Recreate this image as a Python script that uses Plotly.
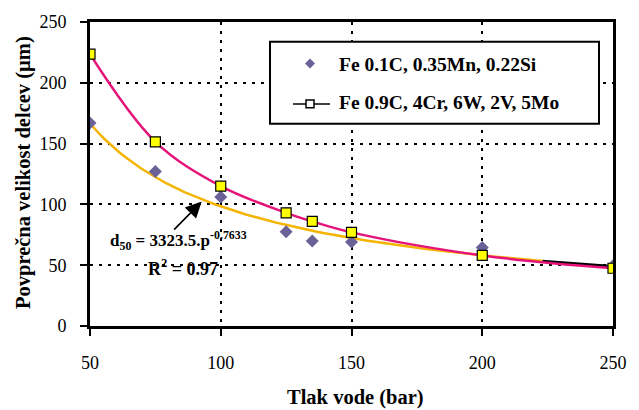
import numpy as np
import plotly.graph_objects as go

# ---- data ----
pressure = [50, 75, 100, 125, 135, 150, 200, 250]
fe01c = [167, 127, 106, 77.5, 70, 69, 64.5, 49.5]        # diamonds
fe09c = [223.5, 151.5, 115, 93, 86, 77, 58, 47.5]         # yellow squares
series_names = ["Fe 0.1C, 0.35Mn, 0.22Si", "Fe 0.9C, 4Cr, 6W, 2V, 5Mo"]
x_ticks = [50, 100, 150, 200, 250]
y_ticks = [0, 50, 100, 150, 200, 250]
eq_text = "d<sub>50</sub> = 3323.5.p<sup>-0.7633</sup>"
r2_text = "R<sup>2</sup> = 0.97"
x_title = "Tlak vode (bar)"
y_title = "Povprečna velikost delcev (µm)"

# power-law trendline fitted to the first series (as the spreadsheet did)
b, loga = np.polyfit(np.log(pressure), np.log(fe01c), 1)
a = np.exp(loga)
fit_x1 = np.linspace(50, 223, 120)
fit_x2 = np.linspace(223, 250, 30)

FONT = "Liberation Serif"
DIAMOND = "#6a6296"
MAGENTA = "#E5137A"
ORANGE = "#F4B400"

fig = go.Figure()
fig.add_trace(go.Scatter(x=fit_x2, y=a * fit_x2 ** b, mode="lines",
                         line=dict(color="black", width=2.5), showlegend=False, hoverinfo="skip"))
fig.add_trace(go.Scatter(x=fit_x1, y=a * fit_x1 ** b, mode="lines",
                         line=dict(color=ORANGE, width=2.5), showlegend=False, hoverinfo="skip"))
fig.add_trace(go.Scatter(x=pressure, y=fe01c, mode="markers", name=series_names[0],
                         marker=dict(symbol="diamond", size=10, color=DIAMOND), showlegend=False))
fig.add_trace(go.Scatter(x=pressure, y=fe09c, mode="lines+markers", name=series_names[1],
                         line=dict(color=MAGENTA, width=2.5, shape="spline", smoothing=1),
                         marker=dict(symbol="square", size=10, color="#FFFF00",
                                     line=dict(color="black", width=1.2)), showlegend=False))

W, H = 639, 410
L, R, T, B = 90, 26, 18, 84
pw, ph = W - L - R, H - T - B


def px(xp):
    return (xp - L) / pw


def py(yp):
    return (H - B - yp) / ph


axis_common = dict(showline=True, linecolor="black", linewidth=3, mirror=True,
                   showgrid=True, gridcolor="black", gridwidth=2, griddash="3px,6px",
                   ticks="outside", ticklen=7, tickwidth=2, tickcolor="black",
                   zeroline=False, tickfont=dict(family=FONT, size=18, color="black"))

fig.update_xaxes(range=[50, 250], tickvals=x_ticks, ticklabelstandoff=11, **axis_common)
fig.update_yaxes(range=[0, 250], tickvals=y_ticks, ticklabelstandoff=10, **axis_common)

shapes = [
    dict(type="rect", xref="paper", yref="paper", x0=px(270), x1=px(599), y0=py(121), y1=py(38),
         line=dict(color="black", width=2), fillcolor="white", layer="above"),
    dict(type="path", xref="paper", yref="paper",
         path=f"M {px(305)} {py(60)} L {px(310)} {py(55)} L {px(315)} {py(60)} L {px(310)} {py(65)} Z",
         line=dict(width=0), fillcolor=DIAMOND, layer="above"),
    dict(type="line", xref="paper", yref="paper", x0=px(293), x1=px(330), y0=py(101), y1=py(101),
         line=dict(color="black", width=1.5), layer="above"),
    dict(type="rect", xref="paper", yref="paper", x0=px(306), x1=px(314), y0=py(105), y1=py(97),
         line=dict(color="black", width=1.5), fillcolor="white", layer="above"),
]

annotations = [
    dict(xref="paper", yref="paper", x=px(337), y=py(61), xanchor="left", yanchor="middle",
         text="<b>" + series_names[0] + "</b>", showarrow=False,
         font=dict(family=FONT, size=19.5, color="black")),
    dict(xref="paper", yref="paper", x=px(337), y=py(100), xanchor="left", yanchor="middle",
         text="<b>" + series_names[1] + "</b>", showarrow=False,
         font=dict(family=FONT, size=19.5, color="black")),
    dict(xref="x", yref="y", x=92.7, y=102.3, axref="x", ayref="y", ax=81.6, ay=78,
         text="", showarrow=True, arrowhead=2, arrowsize=2, arrowwidth=1.6, arrowcolor="black"),
    dict(xref="paper", yref="paper", x=px(108), y=py(239), xanchor="left", yanchor="middle",
         text="<b>" + eq_text + "</b>", showarrow=False,
         font=dict(family=FONT, size=17, color="black")),
    dict(xref="paper", yref="paper", x=px(183), y=py(267), xanchor="center", yanchor="middle",
         text="<b>" + r2_text + "</b>", showarrow=False,
         font=dict(family=FONT, size=18, color="black")),
    dict(xref="paper", yref="paper", x=px(23), y=py(171), xanchor="center", yanchor="middle",
         text="<b>" + y_title + "</b>", textangle=-90, showarrow=False,
         font=dict(family=FONT, size=20.5, color="black")),
    dict(xref="paper", yref="paper", x=px(355), y=py(398), xanchor="center", yanchor="middle",
         text="<b>" + x_title + "</b>", showarrow=False,
         font=dict(family=FONT, size=20.5, color="black")),
]

fig.update_layout(width=W, height=H, margin=dict(l=L, r=R, t=T, b=B),
                  paper_bgcolor="white", plot_bgcolor="white",
                  shapes=shapes, annotations=annotations, showlegend=False,
                  font=dict(family=FONT, color="black"))

fig.write_html("out.html")
